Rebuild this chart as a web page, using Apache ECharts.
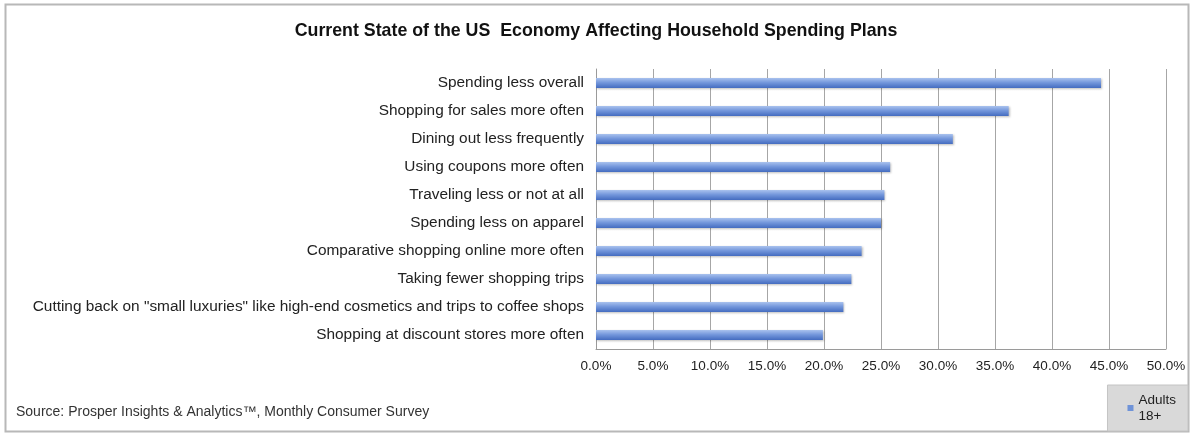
<!DOCTYPE html>
<html>
<head>
<meta charset="utf-8">
<script src="https://cdn.jsdelivr.net/npm/echarts@6/dist/echarts.min.js"></script>
<style>
html,body{margin:0;padding:0;background:#fff;}
#chart{width:1192px;height:434px;}
</style>
</head>
<body>
<div id="chart"></div>
<script>
const categories = [
  'Spending less overall',
  'Shopping for sales more often',
  'Dining out less frequently',
  'Using coupons more often',
  'Traveling less or not at all',
  'Spending less on apparel',
  'Comparative shopping online more often',
  'Taking fewer shopping trips',
  'Cutting back on "small luxuries" like high-end cosmetics and trips to coffee shops',
  'Shopping at discount stores more often'
];
const adults18 = [44.3, 36.2, 31.3, 25.8, 25.3, 25.0, 23.3, 22.4, 21.7, 19.9];
const seriesName = 'Adults 18+';
const titleText = 'Current State of the US  Economy Affecting Household Spending Plans';
const sourceText = 'Source: Prosper Insights & Analytics\u2122, Monthly Consumer Survey';

const font = '"Liberation Sans", Arial, sans-serif';
const chart = echarts.init(document.getElementById('chart'));
chart.setOption({
  backgroundColor: '#fff',
  animation: false,
  title: {
    text: titleText,
    left: 'center',
    top: 17,
    textStyle: {fontFamily: font, fontSize: 17.8, fontWeight: 'bold', color: '#111'}
  },
  graphic: [
    {type: 'rect', shape: {x: 5.5, y: 4.5, width: 1183, height: 427},
     style: {fill: 'none', stroke: '#b8b8b8', lineWidth: 2}, silent: true, z: -1},
    {type: 'text', left: 16, top: 405,
     style: {text: sourceText, font: '14px ' + font, fill: '#333'}}
  ],
  legend: {
    right: 4,
    bottom: 3,
    orient: 'vertical',
    backgroundColor: '#d9d9d9',
    borderColor: '#c4c4c4',
    borderWidth: 1,
    padding: [7, 12, 7, 20],
    itemWidth: 6,
    itemHeight: 6,
    icon: 'rect',
    formatter: function () { return 'Adults\n18+'; },
    textStyle: {fontFamily: font, fontSize: 13.5, color: '#222', lineHeight: 16, align: 'center'},
    data: [{name: seriesName, itemStyle: {color: '#6f93d8'}}]
  },
  grid: {left: 596, right: 26, top: 69, bottom: 85, containLabel: false},
  xAxis: {
    type: 'value',
    min: 0, max: 50, interval: 5,
    axisLabel: {formatter: v => v.toFixed(1) + '%', fontFamily: font, fontSize: 13.5, color: '#222', margin: 10},
    axisLine: {show: true, lineStyle: {color: '#9a9a9a', width: 1}},
    axisTick: {show: false},
    splitLine: {show: true, lineStyle: {color: '#a6a6a6', width: 1}}
  },
  yAxis: {
    type: 'category',
    inverse: true,
    data: categories,
    axisLabel: {fontFamily: font, fontSize: 15.4, color: '#222', margin: 12},
    axisLine: {show: true, lineStyle: {color: '#9a9a9a', width: 1}},
    axisTick: {show: false}
  },
  series: [{
    name: seriesName,
    type: 'bar',
    data: adults18,
    barWidth: 10,
    itemStyle: {
      color: new echarts.graphic.LinearGradient(0, 0, 0, 1, [
        {offset: 0, color: '#a9c2ee'},
        {offset: 0.45, color: '#7598dc'},
        {offset: 1, color: '#446cc0'}
      ]),
      shadowColor: 'rgba(0,0,0,0.25)',
      shadowBlur: 2,
      shadowOffsetX: 1,
      shadowOffsetY: 1
    }
  }]
});
</script>
</body>
</html>
